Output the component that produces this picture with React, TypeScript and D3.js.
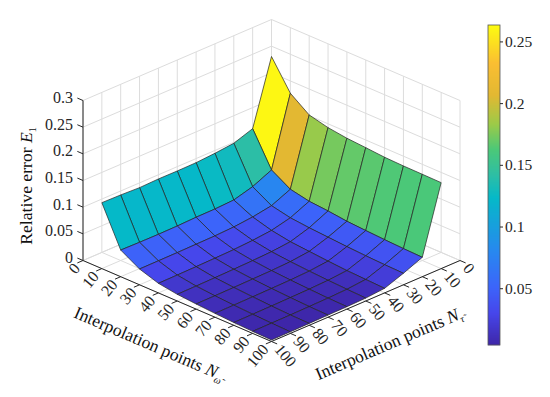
import React, { useEffect, useRef } from 'react';
import * as d3 from 'd3';

const WIDTH = 550;
const HEIGHT = 397;

// grid of the surface, both directions
const gridPoints = [10, 20, 30, 40, 50, 60, 70, 80, 90, 100];

// relative error, one row per N_omega, one column per N_tau
const row10 = [0.261, 0.1409, 0.1287, 0.1251, 0.1227, 0.1223, 0.1225, 0.1214, 0.1229, 0.1236];
const row20 = [0.2073, 0.0786, 0.0625, 0.0527, 0.051, 0.0507, 0.0495, 0.0491, 0.0493, 0.05];
const row30 = [0.1818, 0.0576, 0.042, 0.036, 0.0325, 0.031, 0.0305, 0.03, 0.0298, 0.0296];
const row40 = [0.1732, 0.0503, 0.0345, 0.026, 0.0225, 0.0205, 0.0195, 0.0188, 0.0183, 0.018];
const row50 = [0.1685, 0.0473, 0.031, 0.02, 0.0165, 0.015, 0.014, 0.0133, 0.0128, 0.0125];
const row60 = [0.166, 0.0432, 0.0285, 0.017, 0.013, 0.0115, 0.0108, 0.0102, 0.0098, 0.0096];
const row70 = [0.1632, 0.041, 0.026, 0.014, 0.0105, 0.009, 0.0083, 0.0078, 0.0075, 0.0072];
const row80 = [0.1621, 0.039, 0.024, 0.0115, 0.0085, 0.007, 0.0063, 0.0058, 0.0055, 0.0052];
const row90 = [0.1617, 0.0375, 0.0225, 0.01, 0.0068, 0.0055, 0.0048, 0.0042, 0.004, 0.0038];
const row100 = [0.1612, 0.0364, 0.0216, 0.0086, 0.0055, 0.0045, 0.004, 0.0035, 0.003, 0.0028];
const errors = [row10, row20, row30, row40, row50, row60, row70, row80, row90, row100];

const floorTicks = [0, 10, 20, 30, 40, 50, 60, 70, 80, 90, 100];
const zTicks = [0, 0.05, 0.1, 0.15, 0.2, 0.25, 0.3];
const colorbarTicks = [0.05, 0.1, 0.15, 0.2, 0.25];

// colours as seen in the picture
const colorStops = [0, 0.1, 0.18, 0.29, 0.46, 0.53, 0.61, 0.69, 0.78, 0.88, 1];
const colorValues = ['#3e26a8', '#4646eb', '#3c64fa', '#2887f0', '#05b9c8', '#2dbea5', '#4bc878', '#9cca48', '#e2b832', '#fabe32', '#fdfc10'];

const cMin = 0.004;
const cMax = 0.2633;
const serif = '"Liberation Serif", "Times New Roman", serif';

const App = () => {
  const svgRef = useRef<SVGSVGElement>(null);

  useEffect(() => {
    const svg = d3.select(svgRef.current);
    svg.selectAll('*').remove();

    // oblique projection of the 3D box, fitted to the corners of the axes
    const uX = d3.scaleLinear().domain([0, 100]).range([0, 188.5]);
    const uY = d3.scaleLinear().domain([0, 100]).range([0, 81]);
    const zY = d3.scaleLinear().domain([0, 0.3]).range([0, 160]);
    const backX = 271.5;
    const backY = 179.5;
    const px = (u: number, v: number) => backX + uX(u) - uX(v);
    const py = (u: number, v: number, z: number) => backY + uY(u) + uY(v) - zY(z);

    const color = d3.scaleLinear<string>().domain(colorStops).range(colorValues).interpolate(d3.interpolateRgb);
    const zColor = (z: number) => color((z - cMin) / (cMax - cMin));

    const line = d3.line<[number, number]>();
    const axisColor = '#262626';
    const gridColor = '#dcdcdc';
    const grid = svg.append('g').attr('fill', 'none').attr('stroke', gridColor).attr('stroke-width', 1);

    // back walls and floor
    floorTicks.forEach(t => {
      grid.append('path').attr('d', line([[px(0, t), py(0, t, 0)], [px(0, t), py(0, t, 0.3)]]));
      grid.append('path').attr('d', line([[px(t, 0), py(t, 0, 0)], [px(t, 0), py(t, 0, 0.3)]]));
      grid.append('path').attr('d', line([[px(t, 0), py(t, 0, 0)], [px(t, 100), py(t, 100, 0)]]));
      grid.append('path').attr('d', line([[px(0, t), py(0, t, 0)], [px(100, t), py(100, t, 0)]]));
    });
    zTicks.forEach(t => {
      grid.append('path').attr('d', line([[px(0, 100), py(0, 100, t)], [px(0, 0), py(0, 0, t)], [px(100, 0), py(100, 0, t)]]));
    });

    // axes lines and ticks
    const axes = svg.append('g').attr('fill', 'none').attr('stroke', axisColor).attr('stroke-width', 1);
    axes.append('path').attr('d', line([[px(0, 100), py(0, 100, 0.3)], [px(0, 100), py(0, 100, 0)], [px(100, 100), py(100, 100, 0)], [px(100, 0), py(100, 0, 0)]]));

    const labels = svg.append('g').attr('font-family', serif).attr('font-size', 16).attr('fill', axisColor);
    floorTicks.forEach(t => {
      axes.append('path').attr('d', line([[px(t, 100), py(t, 100, 0)], [px(t, 103), py(t, 103, 0)]]));
      axes.append('path').attr('d', line([[px(100, t), py(100, t, 0)], [px(103, t), py(103, t, 0)]]));
      const lx = px(t, 100) - 5;
      const ly = py(t, 100, 0) + 6;
      labels.append('text').attr('text-anchor', 'end').attr('dominant-baseline', 'middle')
        .attr('transform', `translate(${lx},${ly}) rotate(-50)`).text(t);
      const rx = px(100, t) + 5;
      const ry = py(100, t, 0) + 6;
      labels.append('text').attr('text-anchor', 'start').attr('dominant-baseline', 'middle')
        .attr('transform', `translate(${rx},${ry}) rotate(50)`).text(t);
    });
    zTicks.forEach(t => {
      axes.append('path').attr('d', line([[px(0, 100), py(0, 100, t)], [px(-3, 100), py(-3, 100, t)]]));
      labels.append('text').attr('x', px(0, 100) - 10).attr('y', py(-3, 100, t) + 5).attr('text-anchor', 'end').text(t);
    });

    // surface, painted back to front, flat colour from the first corner of each cell
    const surface = svg.append('g').attr('stroke', '#222').attr('stroke-width', 0.7).attr('stroke-linejoin', 'round');
    const cells: { i: number; j: number }[] = [];
    d3.range(gridPoints.length - 1).forEach(i => d3.range(gridPoints.length - 1).forEach(j => cells.push({ i, j })));
    cells.sort((a, b) => a.i + a.j - (b.i + b.j));
    cells.forEach(({ i, j }) => {
      const corner = (a: number, b: number): [number, number] => [
        px(gridPoints[a], gridPoints[b]),
        py(gridPoints[a], gridPoints[b], errors[a][b]),
      ];
      const d = line([corner(i, j), corner(i + 1, j), corner(i + 1, j + 1), corner(i, j + 1)]) + 'Z';
      surface.append('path').attr('d', d).attr('fill', zColor(errors[i][j]));
    });

    // axis titles
    const titles = svg.append('g').attr('font-family', serif).attr('font-size', 17.6).attr('fill', '#111');
    const leftTitle = titles.append('text').attr('text-anchor', 'middle').attr('transform', 'translate(147,349) rotate(23.3)');
    leftTitle.append('tspan').text('Interpolation points ');
    leftTitle.append('tspan').attr('font-style', 'italic').text('N');
    leftTitle.append('tspan').attr('font-size', 10).attr('font-style', 'italic').attr('dy', 4).text('ω̃');
    const rightTitle = titles.append('text').attr('text-anchor', 'middle').attr('transform', 'translate(391,349) rotate(-23.3)');
    rightTitle.append('tspan').text('Interpolation points ');
    rightTitle.append('tspan').attr('font-style', 'italic').text('N');
    rightTitle.append('tspan').attr('font-size', 10).attr('font-style', 'italic').attr('dy', 4).text('τ̃');
    const zTitle = titles.append('text').attr('text-anchor', 'middle').attr('transform', 'translate(32,186) rotate(-90)');
    zTitle.append('tspan').text('Relative error ');
    zTitle.append('tspan').attr('font-style', 'italic').text('E');
    zTitle.append('tspan').attr('font-size', 10).attr('dy', 4).text('1');

    // colorbar
    const barX = 488;
    const barW = 12;
    const barTop = 25;
    const barBottom = 345;
    const barScale = d3.scaleLinear().domain([cMin, cMax]).range([barBottom, barTop]);
    const bar = svg.append('g');
    d3.range(barTop, barBottom).forEach(y => {
      bar.append('rect').attr('x', barX).attr('y', y).attr('width', barW).attr('height', 1.2)
        .attr('fill', zColor(barScale.invert(y + 0.5)));
    });
    bar.append('rect').attr('x', barX).attr('y', barTop).attr('width', barW).attr('height', barBottom - barTop)
      .attr('fill', 'none').attr('stroke', '#555').attr('stroke-width', 0.8);
    const barAxis = svg.append('g').attr('transform', `translate(${barX + barW},0)`)
      .call(d3.axisRight(barScale).tickValues(colorbarTicks).tickSize(3).tickFormat(d => String(d)));
    barAxis.select('.domain').remove();
    barAxis.selectAll('line').attr('stroke', axisColor);
    barAxis.selectAll('text').attr('font-family', serif).attr('font-size', 15.5).attr('fill', axisColor).attr('x', 5);
  }, []);

  return <svg ref={svgRef} width={WIDTH} height={HEIGHT} style={{ position: 'absolute', left: 0, top: 0, background: '#fff' }} />;
};

export default App;
